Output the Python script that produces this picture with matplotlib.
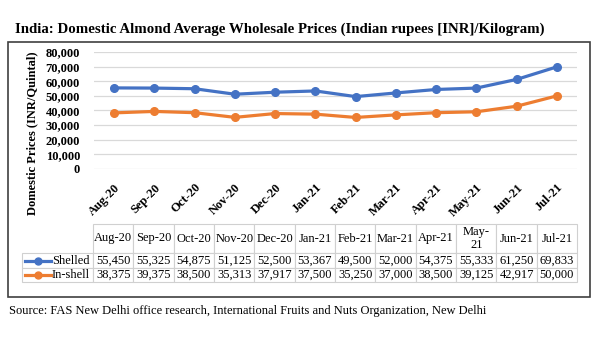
import matplotlib.pyplot as plt
from matplotlib.patches import Rectangle
from matplotlib.lines import Line2D

months = ['Aug-20', 'Sep-20', 'Oct-20', 'Nov-20', 'Dec-20', 'Jan-21',
          'Feb-21', 'Mar-21', 'Apr-21', 'May-21', 'Jun-21', 'Jul-21']
shelled = [55450, 55325, 54875, 51125, 52500, 53367, 49500, 52000, 54375, 55333, 61250, 69833]
inshell = [38375, 39375, 38500, 35313, 37917, 37500, 35250, 37000, 38500, 39125, 42917, 50000]
series_names = ['Shelled', 'In-shell']
header_labels = ['Aug-20', 'Sep-20', 'Oct-20', 'Nov-20', 'Dec-20', 'Jan-21',
                 'Feb-21', 'Mar-21', 'Apr-21', 'May-\n21', 'Jun-21', 'Jul-21']

BLUE = '#4472C4'
ORANGE = '#ED7D31'
W, H = 600, 351

plt.rcParams['font.family'] = ['Liberation Serif', 'DejaVu Serif']

fig = plt.figure(figsize=(6, 3.51), dpi=100)


def px(x0, y0, x1, y1):
    # pixel box (top-left origin) -> figure fraction [l, b, w, h]
    return [x0 / W, 1 - y1 / H, (x1 - x0) / W, (y1 - y0) / H]


# outer frame
l, b, w, h = px(8, 42, 590, 297)
fig.add_artist(Rectangle((l, b), w, h, transform=fig.transFigure,
                         fill=False, edgecolor='#404040', lw=1.2))

ax = fig.add_axes(px(94, 52, 577, 169))
x = list(range(len(months)))
ax.plot(x, shelled, color=BLUE, lw=2.3, marker='o', ms=5.5, clip_on=False, zorder=3)
ax.plot(x, inshell, color=ORANGE, lw=2.3, marker='o', ms=5.5, clip_on=False, zorder=3)
ax.set_xlim(-0.5, len(months) - 0.5)
ax.set_ylim(0, 80000)
ax.set_yticks(range(0, 80001, 10000))
ax.set_yticklabels([f'{v:,}' for v in range(0, 80001, 10000)],
                   fontsize=9, fontweight='bold')
ax.set_xticks(x)
ax.set_xticklabels(months, rotation=45, ha='right', rotation_mode='anchor',
                   fontsize=9, fontweight='bold')
ax.tick_params(length=0)
ax.tick_params(axis='y', pad=10)
ax.tick_params(axis='x', pad=9)
ax.grid(axis='y', color='#D9D9D9', lw=0.9)
for s in ax.spines.values():
    s.set_visible(False)
ax.set_axisbelow(True)

fig.text(32 / W, 1 - 133 / H, 'Domestic Prices (INR/Quintal)', rotation=90,
         ha='center', va='center', fontsize=9, fontweight='bold')

fig.text(15 / W, 1 - 29 / H,
         'India: Domestic Almond Average Wholesale Prices (Indian rupees [INR]/Kilogram)',
         ha='left', va='center', fontsize=10.7, fontweight='bold')

fig.text(9 / W, 1 - 311 / H,
         'Source: FAS New Delhi office research, International Fruits and Nuts Organization, New Delhi',
         ha='left', va='center', fontsize=9)

# data table
rows = [[''] + header_labels,
        [''] + [f'{v:,}' for v in shelled],
        [''] + [f'{v:,}' for v in inshell]]
tax = fig.add_axes(px(22, 224, 577, 282))
tax.axis('off')
col_w = [71] + [40.25] * 12
row_h = [29, 15, 14]
tbl = tax.table(cellText=rows, cellLoc='center', loc='center', bbox=[0, 0, 1, 1])
tbl.auto_set_font_size(False)
for (r, c), cell in tbl.get_celld().items():
    cell.set_width(col_w[c])
    cell.set_height(row_h[r])
    cell.set_edgecolor('#D0D0D0')
    cell.set_linewidth(0.8)
    cell.get_text().set_fontsize(9)
    cell.PAD = 0.02
    if r == 0 and c == 0:
        cell.set_edgecolor('none')

# row labels with legend keys
for yc, col, name in [(260.5, BLUE, series_names[0]), (275, ORANGE, series_names[1])]:
    fig.add_artist(Line2D([25 / W, 51 / W], [1 - yc / H] * 2, transform=fig.transFigure,
                          color=col, lw=2.3))
    fig.add_artist(Line2D([38 / W], [1 - yc / H], transform=fig.transFigure,
                          color=col, marker='o', ms=5))
    fig.text(52 / W, 1 - yc / H, name, ha='left', va='center', fontsize=9)

fig.savefig('out.png', dpi=100)
